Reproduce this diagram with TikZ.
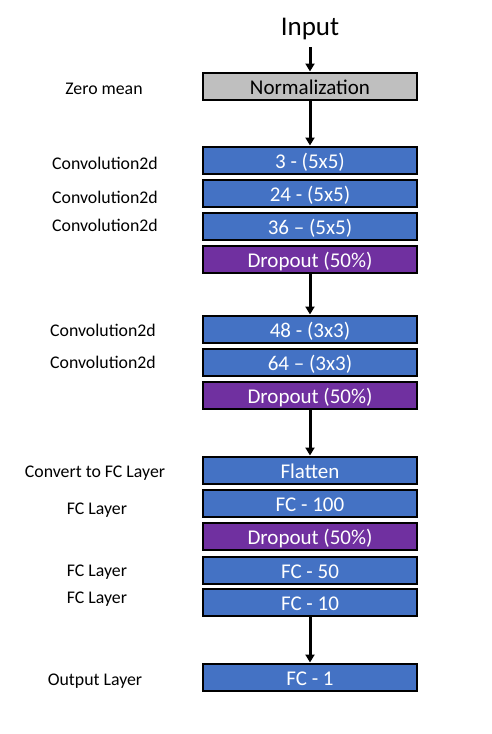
\documentclass[tikz,border=0pt]{standalone}
\usepackage{fontspec}
\setmainfont{Carlito}
\usetikzlibrary{arrows.meta}
\definecolor{convblue}{HTML}{4472C4}
\definecolor{droppurple}{HTML}{7030A0}
\definecolor{normgray}{HTML}{BFBFBF}
\tikzset{
  layerbox/.style={draw=black, line width=2pt, minimum width=214pt, minimum height=27pt, inner sep=0pt, text height=16pt, text depth=0pt, font=\fontsize{21}{24}\selectfont},
  bluebox/.style={layerbox, fill=convblue, text=white},
  purplebox/.style={layerbox, fill=droppurple, text=white},
  graybox/.style={layerbox, fill=normgray, text=black},
  sidelabel/.style={font=\fontsize{17.8}{21}\selectfont, text=black, text height=13pt, text depth=0pt, inner sep=0pt},
  flow/.style={-{Triangle[length=8pt,width=9pt]}, line width=3pt, draw=black},
}
\begin{document}
\begin{tikzpicture}[x=1pt,y=-1pt]
\useasboundingbox (0,0) rectangle (492,734);
\node[font=\fontsize{27}{31}\selectfont, text height=21pt, text depth=0pt, inner sep=0pt] (input) at (310,25) {Input};
\node[graybox] (norm) at (310,86) {Normalization};
\node[bluebox] (c1) at (310,160) {3 - (5x5)};
\node[bluebox] (c2) at (310,193) {24 - (5x5)};
\node[bluebox] (c3) at (310,226) {36 – (5x5)};
\node[purplebox] (d1) at (310,259) {Dropout (50\%)};
\node[bluebox] (c4) at (310,329) {48 - (3x3)};
\node[bluebox] (c5) at (310,362) {64 – (3x3)};
\node[purplebox] (d2) at (310,395) {Dropout (50\%)};
\node[bluebox] (fl) at (310,470) {Flatten};
\node[bluebox] (f100) at (310,503) {FC - 100};
\node[purplebox] (d3) at (310,536) {Dropout (50\%)};
\node[bluebox] (f50) at (310,570) {FC - 50};
\node[bluebox] (f10) at (310,602) {FC - 10};
\node[bluebox] (f1) at (310,677) {FC - 1};
\coordinate (inarrow) at (310,47);
\draw[flow] (inarrow) -- (norm.north);
\draw[flow] (norm.south) -- (c1.north);
\draw[flow] (d1.south) -- (c4.north);
\draw[flow] (d2.south) -- (fl.north);
\draw[flow] (f10.south) -- (f1.north);
\node[sidelabel] (l0) at (104,88) {Zero mean};
\node[sidelabel] (l1) at (105,163) {Convolution2d};
\node[sidelabel] (l2) at (105,197) {Convolution2d};
\node[sidelabel] (l3) at (105,225) {Convolution2d};
\node[sidelabel] (l4) at (103,330) {Convolution2d};
\node[sidelabel] (l5) at (103,362) {Convolution2d};
\node[sidelabel] (l6) at (95,471) {Convert to FC Layer};
\node[sidelabel] (l7) at (97,508) {FC Layer};
\node[sidelabel] (l8) at (97,570) {FC Layer};
\node[sidelabel] (l9) at (97,597) {FC Layer};
\node[sidelabel] (l10) at (95,679) {Output Layer};
\end{tikzpicture}
\end{document}
